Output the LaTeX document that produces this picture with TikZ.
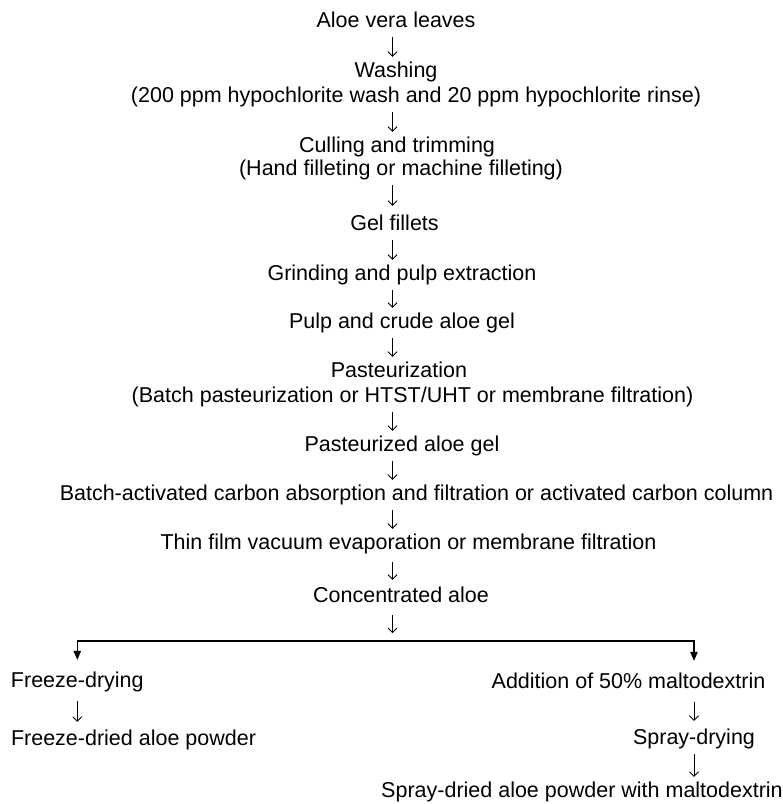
\documentclass[tikz,border=0pt]{standalone}
\usepackage{fontspec}
\setmainfont{Liberation Sans}
\usetikzlibrary{arrows.meta}

\tikzstyle{stage} = [inner sep=0pt,anchor=base,text height=15pt,text depth=4pt,font=\fontsize{21.5}{24}\selectfont]
\tikzstyle{flow} = [line width=0.8pt,-{Straight Barb[length=4.5pt,width=9pt]},shorten <=6pt,shorten >=5pt]
\tikzstyle{branch} = [line width=1.1pt,-{Triangle[length=9pt,width=7.5pt]}]

\begin{document}
\begin{tikzpicture}[x=1pt,y=-1pt]
\useasboundingbox (0,0) rectangle (783,804);

% Main line of stages
\coordinate (ax) at (392.5,0);
\node [stage] (leaves) at (396,27) {Aloe vera leaves};
\node [stage] (wash) at (396,77) {Washing};
\node [stage] (washnote) at (416,102) {(200 ppm hypochlorite wash and 20 ppm hypochlorite rinse)};
\node [stage] (cull) at (397,152) {Culling and trimming};
\node [stage] (cullnote) at (401,175) {(Hand filleting or machine filleting)};
\node [stage] (fillets) at (394.5,230) {Gel fillets};
\node [stage] (grind) at (402,280) {Grinding and pulp extraction};
\node [stage] (pulp) at (402,328) {Pulp and crude aloe gel};
\node [stage] (past) at (399,377) {Pasteurization};
\node [stage] (pastnote) at (412.5,402) {(Batch pasteurization or HTST/UHT or membrane filtration)};
\node [stage] (pastgel) at (402,451) {Pasteurized aloe gel};
\node [stage] (carbon) at (416.5,500) {Batch-activated carbon absorption and filtration or activated carbon column};
\node [stage] (evap) at (408.5,549) {Thin film vacuum evaporation or membrane filtration};
\node [stage] (conc) at (401,602) {Concentrated aloe};

% Arrows between stages
\draw [flow] (leaves.south -| ax) -- (wash.north -| ax);
\draw [flow] (washnote.south -| ax) -- (cull.north -| ax);
\draw [flow,shorten >=9pt] (cullnote.south -| ax) -- (fillets.north -| ax);
\draw [flow] (fillets.south -| ax) -- (grind.north -| ax);
\draw [flow] (grind.south -| ax) -- (pulp.north -| ax);
\draw [flow] (pulp.south -| ax) -- (past.north -| ax);
\draw [flow] (pastnote.south -| ax) -- (pastgel.north -| ax);
\draw [flow] (pastgel.south -| ax) -- (carbon.north -| ax);
\draw [flow] (carbon.south -| ax) -- (evap.north -| ax);
\draw [flow,shorten <=9pt,shorten >=7pt] (evap.south -| ax) -- (conc.north -| ax);

% Two drying routes
\node [stage] (freeze) at (77.3,687) {Freeze-drying};
\node [stage] (freezepow) at (133.5,745) {Freeze-dried aloe powder};
\node [stage] (malto) at (628.5,688) {Addition of 50\% maltodextrin};
\node [stage] (spray) at (694,744) {Spray-drying};
\node [stage] (spraypow) at (582,797) {Spray-dried aloe powder with maltodextrin};

% Split line
\coordinate (split) at (392.5,641);
\draw [flow,shorten <=9pt,shorten >=8pt] (conc.south -| ax) -- (split);
\draw [branch,shorten >=12pt] (split) -| (freeze.north);
\draw [branch,shorten >=12pt] (split) -| (malto.north -| spray.north);

% Arrows in the routes
\draw [flow,shorten <=10pt,shorten >=8pt] (freeze.south) -- (freezepow.north -| freeze.south);
\draw [flow,shorten <=10pt,shorten >=8pt] (malto.south -| spray.north) -- (spray.north);
\draw [flow] (spray.south) -- (spraypow.north -| spray.south);

\end{tikzpicture}
\end{document}
